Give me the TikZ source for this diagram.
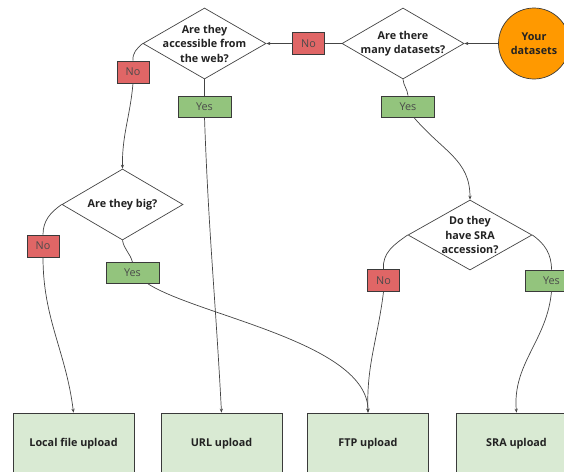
\documentclass[tikz,border=0pt]{standalone}
\usepackage{fontspec}
\setmainfont{Open Sans}
\usetikzlibrary{shapes.geometric,arrows.meta}
\definecolor{linec}{HTML}{444444}
\definecolor{boxc}{HTML}{3A3A3A}
\definecolor{redc}{HTML}{E06666}
\definecolor{greenc}{HTML}{93C47D}
\definecolor{lightg}{HTML}{D9EAD3}
\definecolor{orangec}{HTML}{FF9900}
\definecolor{textc}{HTML}{222222}
\definecolor{ynt}{HTML}{4A4A4A}
\tikzset{
  q/.style={diamond, draw=linec, fill=white, inner sep=0pt, line width=0.7pt},
  qt/.style={font=\bfseries\fontsize{10.8}{14.5}\selectfont, align=center, text=textc},
  nobox/.style={rectangle, draw=boxc, fill=redc, minimum width=32pt, minimum height=22pt, inner sep=0pt, line width=0.7pt, font=\fontsize{10.8}{12}\selectfont, text=ynt},
  yesbox/.style={rectangle, draw=boxc, fill=greenc, minimum width=53pt, minimum height=21pt, inner sep=0pt, line width=0.7pt, font=\fontsize{10.8}{12}\selectfont, text=ynt},
  upbox/.style={rectangle, draw=boxc, fill=lightg, minimum width=121pt, minimum height=62pt, inner sep=0pt, line width=0.7pt, font=\bfseries\fontsize{10.8}{12}\selectfont, text=textc},
  link/.style={draw=linec, line width=0.7pt},
  conn/.style={link, -{Stealth[length=4pt,width=3.2pt]}},
}
\begin{document}
\begin{tikzpicture}[x=1pt,y=-1pt]
\useasboundingbox (0,0) rectangle (564,471);
% start
\node[circle, draw=boxc, fill=orangec, minimum size=71pt, inner sep=0pt, line width=0.7pt, font=\bfseries\fontsize{10.8}{14.5}\selectfont, align=center, text=textc] (ds) at (534,43.5) {Your\\datasets};
% diamonds
\node[q, minimum width=122pt, minimum height=71pt] (d1) at (403,43.5) {};
\node[qt] (t1) at (d1.center) {Are there\\many datasets?};
\node[q, minimum width=123pt, minimum height=71pt] (d2) at (204.5,43.5) {};
\node[qt] (t2) at (d2.center) {Are they\\accessible from\\the web?};
\node[q, minimum width=121pt, minimum height=71pt] (d3) at (122.5,204.5) {};
\node[qt] (t3) at (d3.center) {Are they big?};
\node[q, minimum width=124pt, minimum height=70pt] (d4) at (470,235) {};
\node[qt] (t4) at (d4.center) {Do they\\have SRA\\accession?};
% yes / no
\node[nobox] (no1) at (308.5,43.5) {No};
\node[yesbox] (yes1) at (408,106.5) {Yes};
\node[nobox] (no2) at (133,72) {No};
\node[yesbox] (yes2) at (204.5,106.5) {Yes};
\node[nobox] (no3) at (43,246) {No};
\node[yesbox] (yes3) at (132.5,273) {Yes};
\node[nobox] (no4) at (383.5,280.5) {No};
\node[yesbox] (yes4) at (551.5,280.5) {Yes};
% uploads
\node[upbox] (u1) at (73.5,444) {Local file upload};
\node[upbox] (u2) at (221.5,444) {URL upload};
\node[upbox] (u3) at (368,444) {FTP upload};
\node[upbox] (u4) at (516.5,444) {SRA upload};
% connectors
\draw[conn] (ds.west) -- (d1.east);
\draw[link] (d1.west) -- (no1.east);
\draw[conn] (no1.west) -- (d2.east);
\draw[link] (d1.south) to[out=-85,in=95] (yes1.north);
\draw[conn] (yes1.-62) .. controls +(30,35) and +(0,-40) .. (d4.north);
\draw[link] (d2.south) -- (yes2.north);
\draw[conn] (yes2.south) to[out=-88,in=93] (u2.north);
\draw[link] (d2.west) to[out=-140,in=95] (no2.north);
\draw[conn] (no2.south) to[out=-95,in=91] (d3.north);
\draw[link] (d3.west) to[out=-145,in=90] (no3.north);
\draw[conn] (no3.south) to[out=-90,in=97] (u1.north);
\draw[link] (d3.south) to[out=-80,in=105] (yes3.north);
\draw[conn] (yes3.-35) .. controls +(50,32) and +(0,-70) .. (u3.north);
\draw[link] (d4.west) to[out=-145,in=95] (no4.north);
\draw[conn] (no4.south) to[out=-97,in=92] (u3.north);
\draw[link] (d4.east) to[out=-35,in=90] (yes4.north);
\draw[conn] (yes4.south) to[out=-95,in=95] (u4.north);
\end{tikzpicture}
\end{document}
